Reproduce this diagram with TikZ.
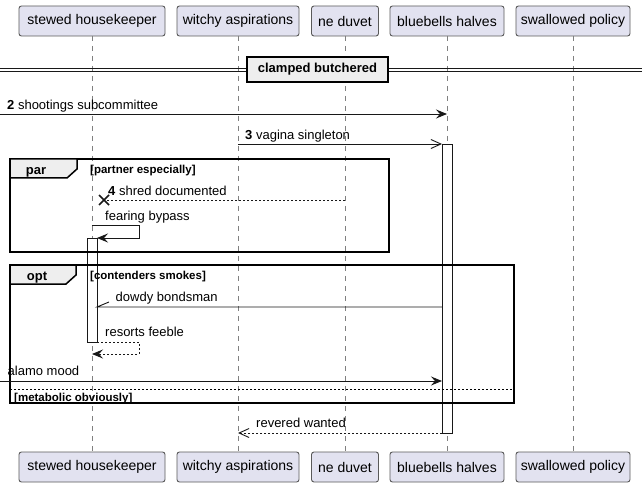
\documentclass[tikz,border=0pt]{standalone}
\usepackage{fontspec}
\setmainfont{Liberation Sans}
\usetikzlibrary{arrows.meta}
\definecolor{partfill}{HTML}{E2E2F0}
\definecolor{ink}{HTML}{181818}
\definecolor{tabfill}{HTML}{EEEEEE}
\definecolor{lifegray}{HTML}{808080}
\definecolor{boxline}{HTML}{5A5A5A}
\begin{document}
\begin{tikzpicture}[x=1pt,y=-1pt,
  part/.style={draw=boxline, fill=partfill, rounded corners=2.5pt, line width=0.9pt, minimum height=30pt, inner sep=0pt, outer sep=0pt, font=\fontsize{14}{16}\selectfont},
  life/.style={draw=lifegray, line width=0.9pt, dash pattern=on 5pt off 5pt},
  msg/.style={draw=ink, line width=0.9pt},
  rmsg/.style={msg, dash pattern=on 2pt off 2pt},
  fullhead/.style={-{Stealth[length=11pt,width=9pt,inset=4pt]}},
  openhead/.style={-{Straight Barb[length=10pt,width=9pt]}},
  lbl/.style={anchor=base west, inner sep=0pt, font=\fontsize{13}{15}\selectfont},
  flbl/.style={anchor=base west, inner sep=0pt, font=\fontsize{11.5}{13}\selectfont\bfseries},
  frm/.style={draw=black, line width=1.5pt, inner sep=0pt, outer sep=0pt, anchor=north west},
  tabshape/.style={draw=black, line width=1.5pt, fill=tabfill},
  tabtxt/.style={anchor=base, inner sep=0pt, font=\fontsize{13}{15}\selectfont\bfseries},
  act/.style={draw=ink, fill=white, line width=0.9pt, inner sep=0pt, outer sep=0pt, minimum width=10pt, anchor=north},
]
\useasboundingbox[fill=white] (0,0) rectangle (642,486);

% participants (top)
\node[part, minimum width=146pt] (sh) at (92,21) {stewed housekeeper};
\node[part, minimum width=122pt] (wa) at (238,21) {witchy aspirations};
\node[part, minimum width=67pt] (nd) at (345,21) {ne duvet};
\node[part, minimum width=114pt] (bh) at (447,21) {bluebells halves};
\node[part, minimum width=114pt] (sp) at (573,21) {swallowed policy};
% participants (bottom)
\node[part, minimum width=146pt] (shB) at (92,467) {stewed housekeeper};
\node[part, minimum width=122pt] (waB) at (238,467) {witchy aspirations};
\node[part, minimum width=67pt] (ndB) at (345,467) {ne duvet};
\node[part, minimum width=114pt] (bhB) at (447,467) {bluebells halves};
\node[part, minimum width=114pt] (spB) at (573,467) {swallowed policy};

% lifelines
\draw[life] (sh.south) -- (shB.north);
\draw[life] (wa.south) -- (waB.north);
\draw[life] (nd.south) -- (ndB.north);
\draw[life] (bh.south) -- (bhB.north);
\draw[life] (sp.south) -- (spB.north);

% divider
\coordinate (dA1) at (0,68);   \coordinate (dB1) at (642,68);
\coordinate (dA2) at (0,71.3); \coordinate (dB2) at (642,71.3);
\draw[msg] (dA1) -- (dB1);
\draw[msg] (dA2) -- (dB2);
\node[draw=black, line width=1.5pt, fill=tabfill, minimum width=141pt, minimum height=25pt, inner sep=0pt, font=\fontsize{13}{15}\selectfont\bfseries] (div) at (317.5,69.5) {clamped butchered};

% activations
\node[act, minimum height=289pt] (actB) at (447,144) {};
\node[act, minimum height=104pt] (actS) at (92,238) {};

% frames
\node[frm, minimum width=379pt, minimum height=93pt] (par) at (10,159) {};
\draw[tabshape] (par.north west) -- ++(67,0) -- ++(0,10) -- ++(-10,9) -- ++(-57,0) -- cycle;
\node[tabtxt] (parT) at (36,174.3) {par};
\node[flbl] (parG) at (90,173.3) {[partner especially]};

\node[frm, minimum width=504pt, minimum height=138pt] (opt) at (10,265) {};
\draw[tabshape] (opt.north west) -- ++(66,0) -- ++(0,10) -- ++(-10,9) -- ++(-56,0) -- cycle;
\node[tabtxt] (optT) at (37,280) {opt};
\node[flbl] (optG) at (90,279.3) {[contenders smokes]};
\coordinate (sepA) at (10,389); \coordinate (sepB) at (514,389);
\draw[draw=black, line width=0.9pt, dash pattern=on 2pt off 2pt] (sepA) -- (sepB);
\node[flbl] (optG2) at (14,401) {[metabolic obviously]};

% message 2
\coordinate (m2a) at (0,114); \coordinate (m2b) at (447,114);
\draw[msg, fullhead] (m2a) -- (m2b);
\node[lbl] (m2l) at (7,109.3) {\textbf{2} shootings subcommittee};

% message 3
\coordinate (m3a) at (238,144); \coordinate (m3b) at (442,144);
\draw[msg, openhead] (m3a) -- (m3b);
\node[lbl] (m3l) at (245,140) {\textbf{3} vagina singleton};

% message 4 (destroy)
\coordinate (m4a) at (345,200); \coordinate (m4b) at (104,200);
\draw[rmsg] (m4a) -- (m4b);
\draw[draw=ink, line width=1.7pt] (99,195) -- (109,205) (99,205) -- (109,195);
\node[lbl] (m4l) at (108,195.3) {\textbf{4} shred documented};

% fearing bypass (self)
\coordinate (fbA) at (92,225); \coordinate (fbB) at (97,238);
\draw[msg, fullhead] (fbA) -- (139,225) -- (139,238) -- (fbB);
\node[lbl] (fbl) at (105,220.7) {fearing bypass};

% dowdy bondsman
\coordinate (dbA) at (442,307); \coordinate (dbB) at (97,307); \coordinate (dbH) at (109,302);
\draw[msg] (dbA) -- (dbB) -- (dbH);
\node[lbl] (dbl) at (115.5,301.7) {dowdy bondsman};

% resorts feeble (self return)
\coordinate (rfA) at (97,342); \coordinate (rfB) at (92,354);
\draw[rmsg, fullhead] (rfA) -- (139,342) -- (139,354) -- (rfB);
\node[lbl] (rfl) at (105,336.7) {resorts feeble};

% alamo mood
\coordinate (amA) at (0,381); \coordinate (amB) at (442,381);
\draw[msg, fullhead] (amA) -- (amB);
\node[lbl] (aml) at (7.5,375) {alamo mood};

% revered wanted
\coordinate (rwA) at (442,433); \coordinate (rwB) at (238,433);
\draw[rmsg, openhead] (rwA) -- (rwB);
\node[lbl] (rwl) at (256,427.3) {revered wanted};
\end{tikzpicture}
\end{document}
